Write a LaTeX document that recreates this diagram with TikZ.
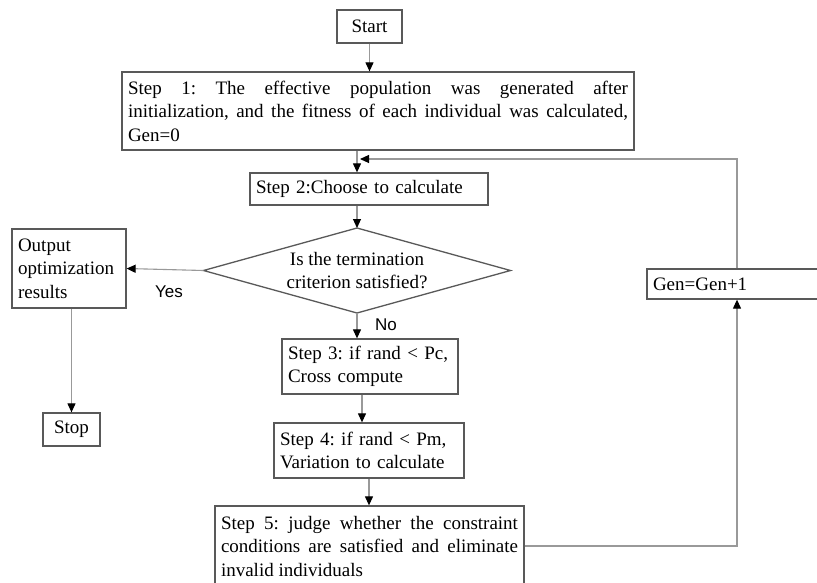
\documentclass[tikz,border=0pt]{standalone}
\usepackage{fontspec}
\setmainfont{Liberation Serif}
\newfontfamily\lblfont{Liberation Sans}
\usetikzlibrary{arrows.meta,shapes.geometric}
\begin{document}
\frenchspacing
\begin{tikzpicture}[x=1pt,y=-1pt,
  box/.style={draw=black!65, line width=1.3pt, rectangle, inner xsep=6pt, inner ysep=2pt,
              font=\fontsize{19}{23.5}\selectfont, align=left},
  conn/.style={draw=black!40, line width=1.1pt, -{Triangle[length=9pt,width=8pt,black]}},
  lbl/.style={font=\lblfont\fontsize{17}{19}\selectfont, inner sep=0pt}]
\useasboundingbox (0,0) rectangle (817,582);
\clip (0,0) rectangle (817,582);
\fill[white] (0,0) rectangle (817,582);

\node[box, align=center, inner xsep=0pt, minimum width=65pt, minimum height=33pt] (start) at (369.5,26.5) {Start};
\node[box, align=justify, text width=500pt, minimum height=78pt] (step1) at (378,111)
  {Step 1: The effective population was generated after\linebreak initialization, and the fitness of each individual was calculated,\linebreak Gen=0};
\node[box, text width=226pt, minimum height=32pt] (step2) at (369,189) {Step 2:Choose to calculate};
% decision diamond
\coordinate (dn) at (357,228);
\coordinate (ds) at (357,313);
\coordinate (dw) at (203.5,270.5);
\coordinate (de) at (510.5,270.5);
\draw[draw=black!65, line width=1.3pt] (dn) -- (de) -- (ds) -- (dw) -- cycle;
\node[align=center, font=\fontsize{19}{23.5}\selectfont, inner sep=0pt] (dia) at (357,270.5)
  {Is the termination\\criterion satisfied?};
\node[box, text width=102pt, minimum height=79pt] (out) at (69,268.5) {Output\\optimization\\results};
\node[box, align=center, inner xsep=0pt, minimum width=57pt, minimum height=33pt] (stop) at (71.5,429.5) {Stop};
\node[box, text width=164pt, minimum height=55pt] (step3) at (370,366.5) {Step 3: if rand < Pc,\\Cross compute};
\node[box, text width=178pt, minimum height=55pt] (step4) at (369,450.5) {Step 4: if rand < Pm,\\Variation to calculate};
\node[box, align=justify, text width=297pt, minimum height=80pt] (step5) at (369.5,546)
  {Step 5: judge whether the constraint\linebreak conditions are satisfied and eliminate\linebreak invalid individuals};
\node[box, text width=168pt, minimum height=30pt] (gen) at (737,284) {Gen=Gen+1};

\coordinate (fb) at (360,159);

\draw[conn] (start.south) -- (start.south |- step1.north);
\draw[conn] (step1.south -| dn) -- (step2.north -| dn);
\draw[conn] (step2.south -| dn) -- (dn);
\draw[conn] (dw) -- (out.east);
\node[lbl] (yes) at (169,292) {Yes};
\draw[conn] (ds) -- (ds |- step3.north);
\node[lbl] (no) at (386,325) {No};
\draw[conn] (stop.north |- out.south) -- (stop.north);
\draw[conn] ([xshift=-8pt]step3.south) -- ([xshift=-8pt]step3.south |- step4.north);
\draw[conn] (step4.south) -- (step4.south |- step5.north);
\draw[conn] (step5.east) -| (gen.south);
\draw[conn] (gen.north) |- (fb);
\end{tikzpicture}
\end{document}
